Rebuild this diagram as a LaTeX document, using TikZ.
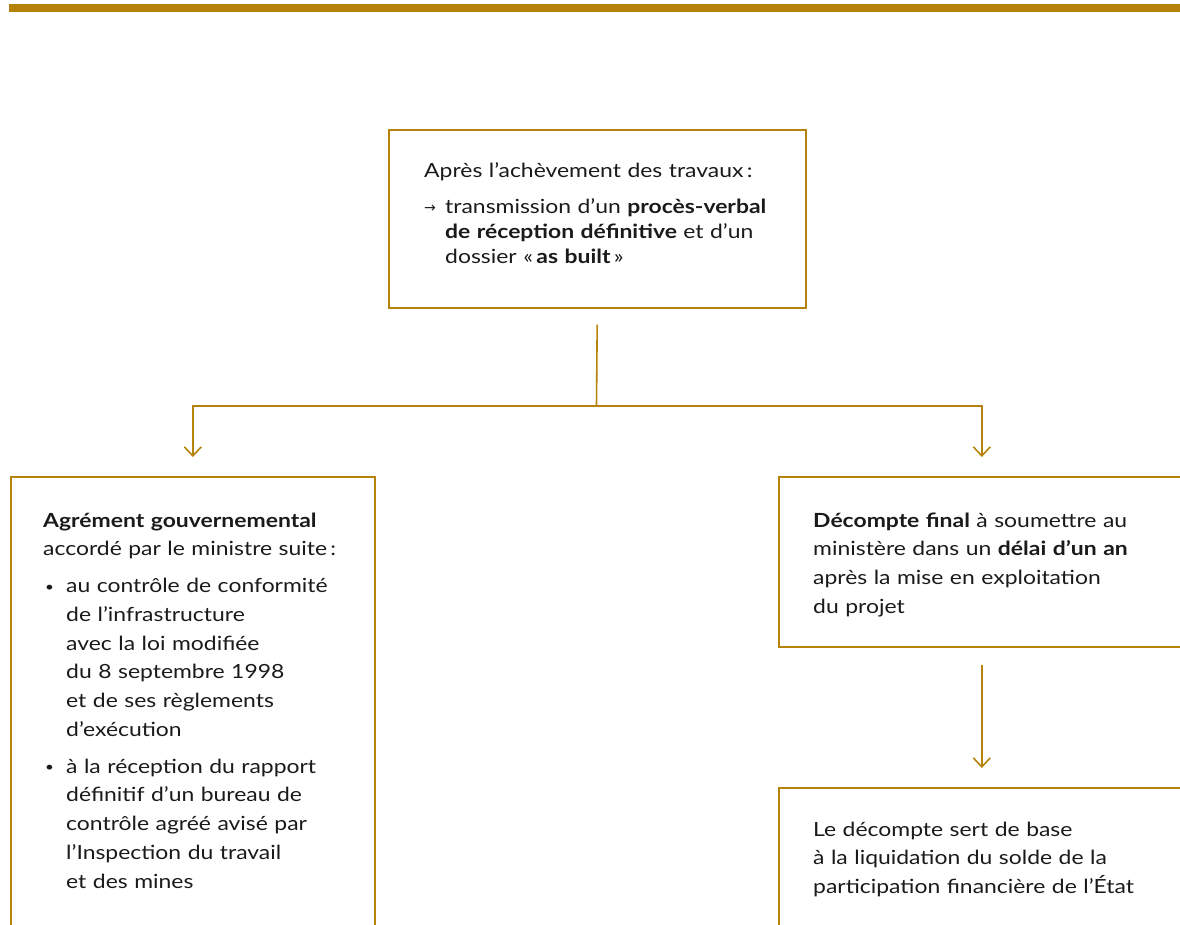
\documentclass[tikz,border=0pt]{standalone}
\usepackage{fontspec}
\setmainfont{Lato}[FakeStretch=1.175]
\newfontfamily\dejavu{DejaVu Sans}
\usetikzlibrary{arrows.meta}
\definecolor{gold}{RGB}{181,131,10}
\definecolor{ink}{RGB}{26,26,26}
\newcommand{\arrowmark}{\makebox[21pt][l]{\raisebox{0.5pt}{\dejavu\fontsize{14}{14}\selectfont →}}}
\newcommand{\bulletmark}{\makebox[23pt][l]{\hspace*{2pt}\raisebox{1.5pt}{\fontsize{13}{13}\selectfont •}}}
\begin{document}
\begin{tikzpicture}[x=1pt,y=-1pt,
  box/.style={draw=gold, line width=1.6pt, inner sep=0pt, anchor=north west},
  txt/.style={anchor=base west, inner sep=0pt, align=left, text width=420pt,
    text=ink, font=\fontsize{19.5}{28.7}\selectfont},
  conn/.style={draw=gold, line width=1.6pt},
  arr/.style={conn, -{Straight Barb[length=9pt,width=17pt,line width=1.6pt]}}]
\clip (0,0) rectangle (1180,924);
\fill[gold] (9,4) rectangle (1190,12);
% boxes
\node[box, minimum width=417pt, minimum height=178pt] (top) at (388,129) {};
\node[box, minimum width=364pt, minimum height=480pt] (lbox) at (10,476) {};
\node[box, minimum width=406pt, minimum height=170pt] (rbox) at (778,476) {};
\node[box, minimum width=406pt, minimum height=200pt] (bbox) at (778,787) {};
% texts
\node[txt, font=\fontsize{19.5}{25}\selectfont] (ttxt) at (424,177)
  {Après l’achèvement des travaux\,:\\[11pt]%
   \arrowmark transmission d’un \textbf{procès-verbal}\\
   \hspace*{21pt}\textbf{de réception définitive} et d’un\\
   \hspace*{21pt}dossier «\,\textbf{as built}\,»};
\node[txt] (ltxt) at (43,527)
  {\textbf{Agrément gouvernemental}\\
   accordé par le ministre suite\,:\\[8.3pt]
   \bulletmark au contrôle de conformité\\
   \hspace*{23pt}de l’infrastructure\\
   \hspace*{23pt}avec la loi modifiée\\
   \hspace*{23pt}du 8 septembre 1998\\
   \hspace*{23pt}et de ses règlements\\
   \hspace*{23pt}d’exécution\\[8.3pt]
   \bulletmark à la réception du rapport\\
   \hspace*{23pt}définitif d’un bureau de\\
   \hspace*{23pt}contrôle agréé avisé par\\
   \hspace*{23pt}l’Inspection du travail\\
   \hspace*{23pt}et des mines};
\node[txt] (rtxt) at (813,527)
  {\textbf{Décompte final} à soumettre au\\
   ministère dans un \textbf{délai d’un an}\\
   après la mise en exploitation\\
   du projet};
\node[txt] (btxt) at (813,836)
  {Le décompte sert de base\\
   à la liquidation du solde de la\\
   participation financière de l’État};
% connectors
\coordinate (split) at (596.5,406);
\draw[conn, shorten <=16pt] (top.south) -- (split);
\draw[arr, shorten >=19pt] (split) -| (lbox.north);
\draw[arr, shorten >=19pt] (split) -| (rbox.north);
\draw[arr, shorten <=17pt, shorten >=19pt] (rbox.south) -- (bbox.north);
\end{tikzpicture}
\end{document}
